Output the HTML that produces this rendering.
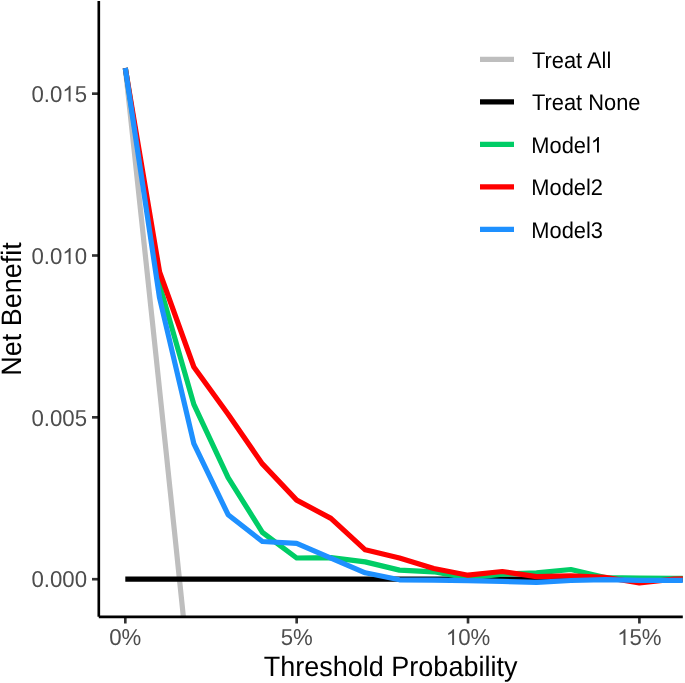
<!DOCTYPE html>
<html><head><meta charset="utf-8"><style>
html,body{margin:0;padding:0;background:#fff;}
body{width:685px;height:683px;overflow:hidden;}
svg{display:block;will-change:transform;}
text{font-family:"Liberation Sans",sans-serif;text-rendering:geometricPrecision;}
</style></head><body>
<svg width="685" height="683" viewBox="0 0 685 683">
<rect width="685" height="683" fill="#fff"/>
<defs><clipPath id="pc"><rect x="98.6" y="0" width="584.2" height="616.5"/></clipPath></defs>
<g clip-path="url(#pc)" fill="none" stroke-linejoin="round" stroke-linecap="butt" stroke-width="5.2">
<polyline stroke="#BEBEBE" points="125.30,68.00 127.01,83.93 128.73,99.88 130.44,115.84 132.15,131.83 133.87,147.82 135.58,163.83 137.30,179.86 139.01,195.91 140.72,211.97 142.44,228.04 144.15,244.14 145.86,260.25 147.58,276.37 149.29,292.51 151.00,308.67 152.72,324.85 154.43,341.04 156.15,357.24 157.86,373.47 159.57,389.71 161.29,405.96 163.00,422.23 164.71,438.52 166.43,454.83 168.14,471.15 169.85,487.49 171.57,503.84 173.28,520.21 175.00,536.60 176.71,553.01 178.42,569.43 180.14,585.87 181.85,602.32 183.56,618.79 185.28,635.28 186.99,651.79"/>
<line stroke="#000" x1="125.30" y1="579.2" x2="700" y2="579.2"/>
<polyline stroke="#00CD66" points="125.30,68.00 159.57,285.00 193.85,404.40 228.12,477.60 262.39,532.30 296.67,558.00 330.94,557.70 365.21,561.90 399.48,570.10 433.76,571.80 468.03,578.00 502.30,574.20 536.58,572.80 570.85,569.50 605.12,577.50 639.39,578.00 673.67,578.30 707.94,578.60"/>
<polyline stroke="#FF0000" points="125.30,68.00 159.57,272.00 193.85,367.00 228.12,414.30 262.39,463.90 296.67,500.10 330.94,518.40 365.21,549.80 399.48,558.00 433.76,568.50 468.03,575.20 502.30,571.50 536.58,576.60 570.85,575.80 605.12,577.30 639.39,583.00 673.67,579.20 707.94,577.50"/>
<polyline stroke="#1E90FF" points="125.30,68.00 159.57,298.00 193.85,443.70 228.12,514.70 262.39,541.50 296.67,543.30 330.94,558.20 365.21,572.80 399.48,579.80 433.76,580.20 468.03,580.60 502.30,581.40 536.58,582.30 570.85,580.50 605.12,579.70 639.39,580.30 673.67,580.30 707.94,580.30"/>
</g>
<g stroke="#333333" stroke-width="2.65">
<line x1="92" y1="93.65" x2="98.8" y2="93.65"/>
<line x1="92" y1="255.5" x2="98.8" y2="255.5"/>
<line x1="92" y1="417.35" x2="98.8" y2="417.35"/>
<line x1="92" y1="579.2" x2="98.8" y2="579.2"/>
<line x1="125.30" y1="616.8" x2="125.30" y2="623.5"/>
<line x1="296.67" y1="616.8" x2="296.67" y2="623.5"/>
<line x1="468.03" y1="616.8" x2="468.03" y2="623.5"/>
<line x1="639.39" y1="616.8" x2="639.39" y2="623.5"/>
</g>
<path d="M98.8,1.1 V616.8 M98.8,616.8 H682.8" fill="none" stroke="#000" stroke-width="2.65" stroke-linecap="butt"/>
<g transform="translate(87,101.6) scale(1,1.04)" fill="#4D4D4D"><text id="t1" x="0" y="0" font-size="22.2" text-anchor="end">0.0&#8199;5</text><path transform="translate(-24.70,0) scale(0.010840,-0.010423)" d="M763 0H583V1147Q518 1085 412.5 1023T223 930V1104Q374 1175 487 1276T647 1472H763V0Z"/></g>
<g transform="translate(87,263.95) scale(1,1.04)" fill="#4D4D4D"><text id="t2" x="0" y="0" font-size="22.2" text-anchor="end">0.0&#8199;0</text><path transform="translate(-24.70,0) scale(0.010840,-0.010423)" d="M763 0H583V1147Q518 1085 412.5 1023T223 930V1104Q374 1175 487 1276T647 1472H763V0Z"/></g>
<g transform="translate(87,425.9) scale(1,1.04)" fill="#4D4D4D"><text id="t3" x="0" y="0" font-size="22.2" text-anchor="end">0.005</text></g>
<g transform="translate(87,587.15) scale(1,1.04)" fill="#4D4D4D"><text id="t4" x="0" y="0" font-size="22.2" text-anchor="end">0.000</text></g>
<g transform="translate(125.3,645.1) scale(1,1.04)" fill="#4D4D4D"><text id="t5" x="0" y="0" font-size="22.2" text-anchor="middle">0%</text></g>
<g transform="translate(296.67,645.1) scale(1,1.04)" fill="#4D4D4D"><text id="t6" x="0" y="0" font-size="22.2" text-anchor="middle">5%</text></g>
<g transform="translate(468.03,645.1) scale(1,1.04)" fill="#4D4D4D"><text id="t7" x="0" y="0" font-size="22.2" text-anchor="middle">&#8199;0%</text><path transform="translate(-22.21,0) scale(0.010840,-0.010423)" d="M763 0H583V1147Q518 1085 412.5 1023T223 930V1104Q374 1175 487 1276T647 1472H763V0Z"/></g>
<g transform="translate(639.39,645.1) scale(1,1.04)" fill="#4D4D4D"><text id="t8" x="0" y="0" font-size="22.2" text-anchor="middle">&#8199;5%</text><path transform="translate(-22.21,0) scale(0.010840,-0.010423)" d="M763 0H583V1147Q518 1085 412.5 1023T223 930V1104Q374 1175 487 1276T647 1472H763V0Z"/></g>
<g transform="translate(390.6,676.1) scale(1,1.04)" fill="#000"><text id="t9" x="0" y="0" font-size="27" text-anchor="middle">Threshold Probability</text></g>
<g transform="translate(20.7,309) rotate(-90) scale(1,1.04)" fill="#000"><text id="t10" x="0" y="0" font-size="27" text-anchor="middle">Net Benefit</text></g>
<g transform="translate(532,67.6) scale(1,1.04)" fill="#000"><text id="t11" x="0" y="0" font-size="21.85">Treat All</text></g>
<g transform="translate(532,110.1) scale(1,1.04)" fill="#000"><text id="t12" x="0" y="0" font-size="21.85">Treat None</text></g>
<g transform="translate(531.3,152.6) scale(1,1.04)" fill="#000"><text id="t13" x="0" y="0" font-size="21.85">Model&#8199;</text><path transform="translate(59.48,0) scale(0.010669,-0.010259)" d="M763 0H583V1147Q518 1085 412.5 1023T223 930V1104Q374 1175 487 1276T647 1472H763V0Z"/></g>
<g transform="translate(531.3,195.1) scale(1,1.04)" fill="#000"><text id="t14" x="0" y="0" font-size="21.85">Model2</text></g>
<g transform="translate(531.3,237.6) scale(1,1.04)" fill="#000"><text id="t15" x="0" y="0" font-size="21.85">Model3</text></g>
<g stroke-width="5.2" stroke-linecap="butt">
<line x1="480" x2="514" y1="59.3" y2="59.3" stroke="#BEBEBE"/>
<line x1="480" x2="514" y1="101.8" y2="101.8" stroke="#000"/>
<line x1="480" x2="514" y1="144.3" y2="144.3" stroke="#00CD66"/>
<line x1="480" x2="514" y1="186.8" y2="186.8" stroke="#FF0000"/>
<line x1="480" x2="514" y1="229.3" y2="229.3" stroke="#1E90FF"/>
</g>
</svg>
</body></html>
